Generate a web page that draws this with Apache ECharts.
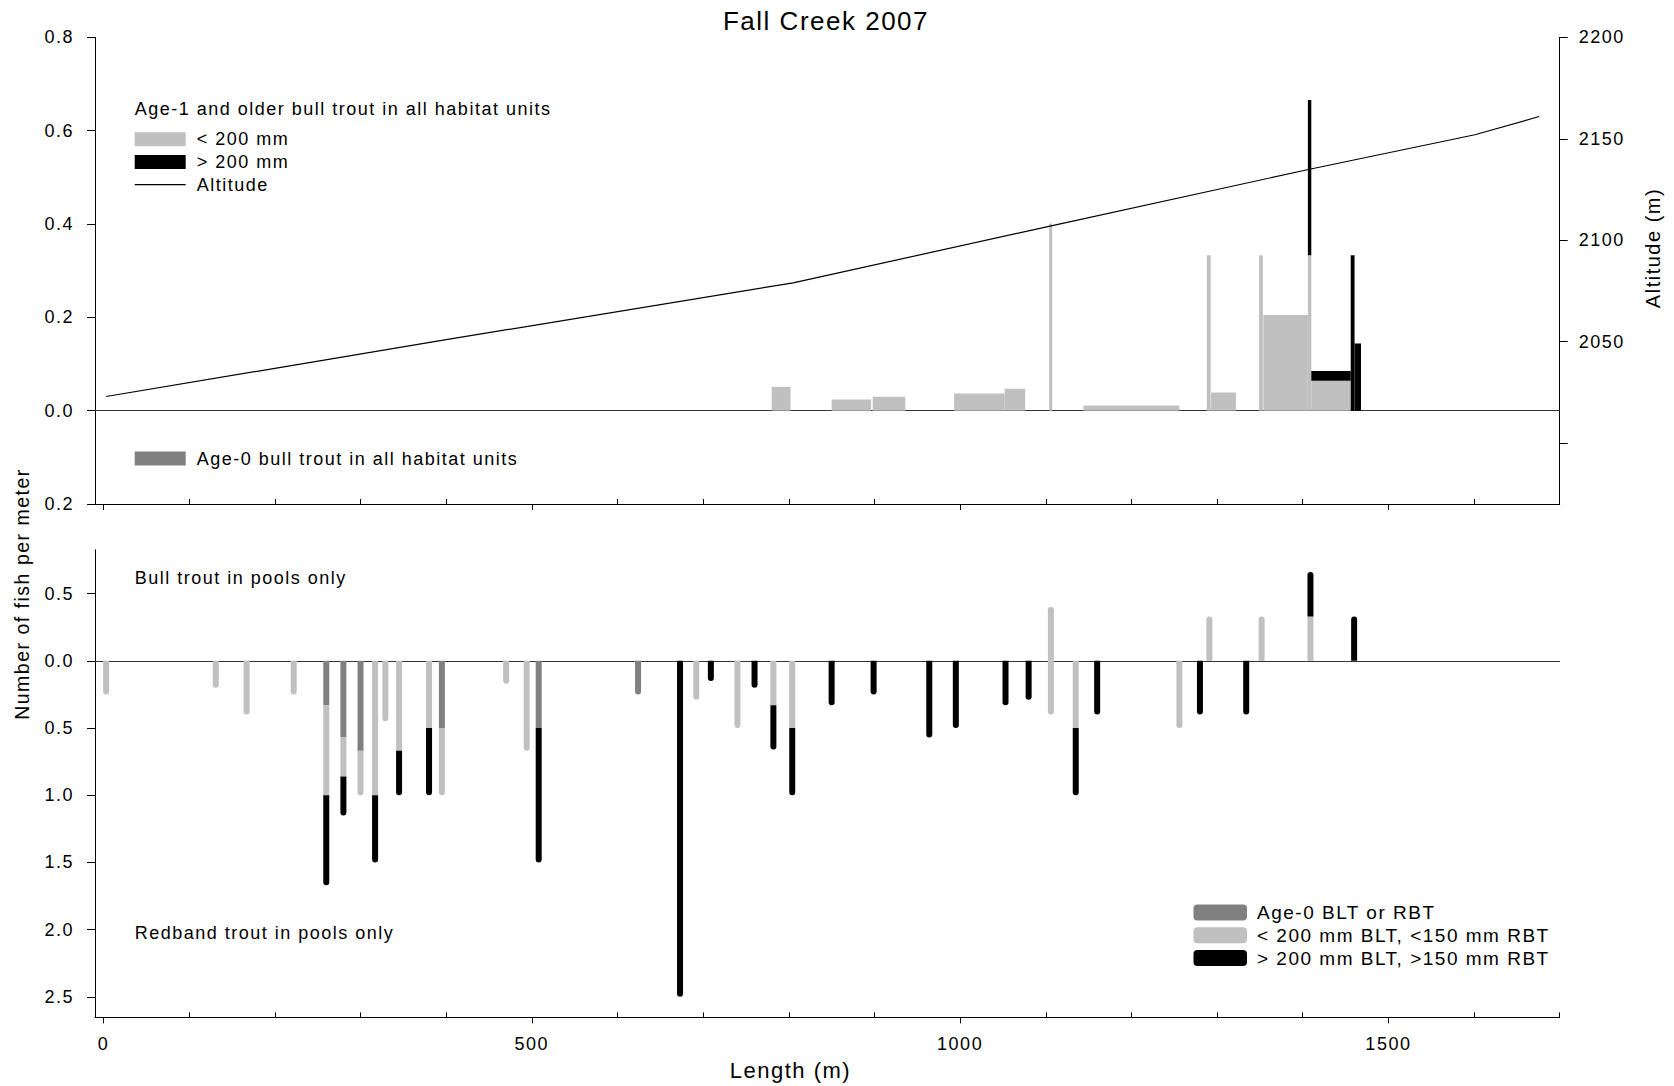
<!DOCTYPE html>
<html>
<head>
<meta charset="utf-8">
<title>Fall Creek 2007</title>
<script src="https://cdn.jsdelivr.net/npm/echarts@6/dist/echarts.min.js"></script>
<style>
  html, body { margin: 0; padding: 0; background: #fff; }
  #chart { width: 1674px; height: 1086px; }
  /* the original figure is set with a loose letter spacing */
  #chart text { letter-spacing: 1.5px; }
</style>
</head>
<body>
<div id="chart"></div>
<script>
const FONT = '"Liberation Sans", Arial, sans-serif'

// upper panel: habitat units (start / end along the creek, m) and fish per meter
const unitStart = [780, 850, 898, 993, 1052, 1104, 1144, 1288, 1293, 1349, 1354, 1406, 1410, 1456, 1460.5]
const unitEnd = [802, 896, 936, 1052, 1076, 1107.5, 1256, 1292.5, 1322, 1353.5, 1406, 1410, 1456, 1460.5, 1468]
const unitAge0 = [0, 0, 0, 0, 0, 0, 0, 0, 0, 0, 0, 0, 0, 0, 0]
const unitSmall = [0.051, 0.024, 0.03, 0.037, 0.047, 0.401, 0.011, 0.333, 0.039, 0.333, 0.205, 0.333, 0.064, 0, 0]
const unitLarge = [0, 0, 0, 0, 0, 0, 0, 0, 0, 0, 0, 0.333, 0.021, 0.333, 0.144]

// altitude profile
const altLength = [3, 400, 805, 1105, 1408, 1601, 1676]
const altitude = [2023, 2051, 2079, 2107, 2135, 2152, 2161]

// lower panel: bull trout in pools (drawn upward)
const btPos = [1106, 1291, 1352, 1409, 1460]
const btAge0 = [0, 0, 0, 0, 0]
const btSmall = [0.4, 0.33, 0.33, 0.33, 0]
const btLarge = [0, 0, 0, 0.33, 0.33]

// lower panel: redband trout in pools (drawn downward)
const rbPos = [3, 131, 167, 222, 260, 280, 300, 317, 329, 345,
  380, 395, 470, 494, 508, 624, 673, 692, 709, 740,
  760, 782, 804, 850, 899, 964, 995, 1053, 1080, 1106,
  1135, 1160, 1256, 1280, 1334]
const rbAge0 = [0, 0, 0, 0, 0.33, 0.57, 0.67, 0, 0, 0,
  0, 0.5, 0, 0, 0.5, 0.25, 0, 0, 0, 0,
  0, 0, 0, 0, 0, 0, 0, 0, 0, 0,
  0, 0, 0, 0, 0]
const rbSmall = [0.25, 0.2, 0.4, 0.25, 0.67, 0.29, 0.33, 1.0, 0.45, 0.67,
  0.5, 0.5, 0.17, 0.67, 0, 0, 0, 0.29, 0, 0.5,
  0, 0.33, 0.5, 0, 0, 0, 0, 0, 0, 0.4,
  0.5, 0, 0.5, 0, 0]
const rbLarge = [0, 0, 0, 0, 0.67, 0.29, 0, 0.5, 0, 0.33,
  0.5, 0, 0, 0, 1.0, 0, 2.5, 0, 0.15, 0,
  0.2, 0.33, 0.5, 0.33, 0.25, 0.57, 0.5, 0.33, 0.29, 0,
  0.5, 0.4, 0, 0.4, 0.4]

// ticks
const xMajor = [0, 500, 1000, 1500]
const xMinor = [100, 200, 300, 400, 600, 700, 800, 900, 1100, 1200, 1300, 1400, 1600, 1700]
const altTicks = [2000, 2050, 2100, 2150, 2200]
const altLabels = [2050, 2100, 2150, 2200]
const poolTicks = [-2.5, -2, -1.5, -1, -0.5, 0, 0.5]

const GRAY0 = '#808080'
const GRAY1 = '#c0c0c0'
const BLACK = '#000'

const absLabel = v => Math.abs(v).toFixed(1)
const plainLabel = v => String(v)
const tickText = { color: '#000', fontSize: 18, fontFamily: FONT }

// [start, end, base, value]
function unitData(cls) {
  return unitStart.map((s, i) => {
    if (cls === 0) return [s, unitEnd[i], 0, -unitAge0[i]]
    if (cls === 1) return [s, unitEnd[i], 0, unitSmall[i]]
    return [s, unitEnd[i], unitSmall[i], unitLarge[i]]
  })
}

// [pos, base, length, sign, outermost]
function poolData(pos, age0, small, large, sign, cls) {
  return pos.map((p, i) => {
    const v = [age0[i], small[i], large[i]]
    let base = 0
    for (let k = 0; k < cls; k++) base += v[k]
    let rest = 0
    for (let k = cls + 1; k < 3; k++) rest += v[k]
    return [p, base, v[cls], sign, rest === 0 ? 1 : 0]
  })
}
function pools(cls) {
  return poolData(btPos, btAge0, btSmall, btLarge, 1, cls)
    .concat(poolData(rbPos, rbAge0, rbSmall, rbLarge, -1, cls))
}

function unitBar(params, api) {
  const val = api.value(3)
  if (!val) return
  const a = api.coord([api.value(0), api.value(2)])
  const b = api.coord([api.value(1), api.value(2) + val])
  return {
    type: 'rect',
    shape: { x: a[0], y: Math.min(a[1], b[1]), width: b[0] - a[0], height: Math.abs(b[1] - a[1]) },
    style: { fill: api.visual('color') }
  }
}

function poolBar(params, api) {
  const len = api.value(2)
  if (!len) return
  const s = api.value(3)
  const p0 = api.coord([api.value(0), s * api.value(1)])
  const p1 = api.coord([api.value(0), s * (api.value(1) + len)])
  const w = 6
  const r = api.value(4) ? (s > 0 ? [3, 3, 0, 0] : [0, 0, 3, 3]) : 0
  return {
    type: 'rect',
    shape: { x: p0[0] - w / 2, y: Math.min(p0[1], p1[1]), width: w, height: Math.abs(p1[1] - p0[1]), r: r },
    style: { fill: api.visual('color') }
  }
}

function lengthAxes(gridIndex, labels) {
  return [
    {
      gridIndex, type: 'value', position: 'bottom', min: -10, max: 1700,
      axisLine: { show: true, onZero: false, lineStyle: { color: '#000', width: 1 } },
      axisTick: { show: true, customValues: xMajor, length: 6, lineStyle: { color: '#000' } },
      axisLabel: Object.assign({ show: labels, customValues: xMajor, formatter: plainLabel, margin: 18 }, tickText),
      splitLine: { show: false }
    },
    {
      gridIndex, type: 'value', position: 'bottom', min: -10, max: 1700,
      axisLine: { show: false, onZero: false },
      axisTick: { show: true, inside: true, customValues: xMinor, length: 5, lineStyle: { color: '#000' } },
      axisLabel: { show: false },
      splitLine: { show: false }
    },
    {
      // zero line
      gridIndex, type: 'value', position: 'bottom', min: -10, max: 1700,
      axisLine: { show: true, onZero: true, lineStyle: { color: '#333', width: 1 } },
      axisTick: { show: false },
      axisLabel: { show: false },
      splitLine: { show: false }
    }
  ]
}

const legendText = { color: '#000', fontSize: 18, fontFamily: FONT }

const option = {
  backgroundColor: '#fff',
  animation: false,
  title: {
    text: 'Fall Creek 2007',
    left: 826,
    textAlign: 'center',
    top: 8,
    padding: 0,
    textStyle: { color: '#000', fontSize: 26, fontWeight: 'normal', fontFamily: FONT }
  },
  grid: [
    { left: 95, top: 37.4, width: 1464.7, height: 466.6 },
    { left: 95, top: 549.8, width: 1464.7, height: 467.6 }
  ],
  xAxis: lengthAxes(0, false).concat(lengthAxes(1, true)),
  yAxis: [
    {
      gridIndex: 0, type: 'value', position: 'left', min: -0.2, max: 0.8, interval: 0.2,
      axisLine: { show: true, onZero: false, lineStyle: { color: '#000' } },
      axisTick: { show: true, length: 8, lineStyle: { color: '#000' } },
      axisLabel: Object.assign({ formatter: absLabel, margin: 21 }, tickText),
      splitLine: { show: false }
    },
    {
      gridIndex: 0, type: 'value', position: 'right', min: 1970, max: 2200,
      axisLine: { show: true, onZero: false, lineStyle: { color: '#000' } },
      axisTick: { show: true, customValues: altTicks, length: 8, lineStyle: { color: '#000' } },
      axisLabel: Object.assign({ customValues: altLabels, formatter: plainLabel, margin: 19 }, tickText),
      splitLine: { show: false }
    },
    {
      gridIndex: 1, type: 'value', position: 'left', min: -2.653, max: 0.826,
      axisLine: { show: true, onZero: false, lineStyle: { color: '#000' } },
      axisTick: { show: true, customValues: poolTicks, length: 8, lineStyle: { color: '#000' } },
      axisLabel: Object.assign({ customValues: poolTicks, formatter: absLabel, margin: 21 }, tickText),
      splitLine: { show: false }
    }
  ],
  legend: [
    {
      orient: 'vertical', left: 134.7, top: 130.3, padding: 0, itemWidth: 51, itemHeight: 14, itemGap: 4.7,
      selectedMode: false, textStyle: Object.assign({ padding: [0, 0, 0, 6] }, legendText),
      data: [
        { name: '< 200 mm', icon: 'rect' },
        { name: '> 200 mm', icon: 'rect' },
        { name: 'Altitude', icon: 'path://M0,0L100,0L100,2.4L0,2.4Z' }
      ]
    },
    {
      orient: 'vertical', left: 134.7, top: 449.5, padding: 0, itemWidth: 51, itemHeight: 14,
      selectedMode: false, textStyle: Object.assign({ padding: [0, 0, 0, 6] }, legendText),
      data: [{ name: 'Age-0 bull trout in all habitat units', icon: 'rect' }]
    },
    {
      orient: 'vertical', left: 1193.5, top: 903.1, padding: 0, itemWidth: 53.5, itemHeight: 16, itemGap: 3.7,
      selectedMode: false, icon: 'roundRect',
      textStyle: Object.assign({}, legendText, { fontSize: 19, padding: [0, 0, 0, 5] }),
      data: ['Age-0 BLT or RBT', '< 200 mm BLT, <150 mm RBT', '> 200 mm BLT, >150 mm RBT']
    }
  ],
  graphic: [
    { type: 'text', x: 134.7, y: 109.4, style: { text: 'Age-1 and older bull trout in all habitat units', fill: '#000', font: '18px ' + FONT, verticalAlign: 'middle' } },
    { type: 'text', x: 134.7, y: 577.8, style: { text: 'Bull trout in pools only', fill: '#000', font: '18px ' + FONT, verticalAlign: 'middle' } },
    { type: 'text', x: 134.7, y: 933.3, style: { text: 'Redband trout in pools only', fill: '#000', font: '18px ' + FONT, verticalAlign: 'middle' } },
    { type: 'text', x: 790.5, y: 1070, style: { text: 'Length (m)', fill: '#000', font: '22px ' + FONT, align: 'center', verticalAlign: 'middle' } },
    { type: 'text', x: 22, y: 594, rotation: Math.PI / 2, style: { text: 'Number of fish per meter', fill: '#000', font: '19.5px ' + FONT, align: 'center', verticalAlign: 'middle' } },
    { type: 'text', x: 1652.6, y: 248, rotation: Math.PI / 2, style: { text: 'Altitude (m)', fill: '#000', font: '20px ' + FONT, align: 'center', verticalAlign: 'middle' } }
  ],
  series: [
    {
      name: 'Age-0 bull trout in all habitat units', type: 'custom', xAxisIndex: 0, yAxisIndex: 0,
      itemStyle: { color: GRAY0 }, renderItem: unitBar, data: unitData(0)
    },
    {
      name: '< 200 mm', type: 'custom', xAxisIndex: 0, yAxisIndex: 0,
      itemStyle: { color: GRAY1 }, renderItem: unitBar, data: unitData(1)
    },
    {
      name: '> 200 mm', type: 'custom', xAxisIndex: 0, yAxisIndex: 0,
      itemStyle: { color: BLACK }, renderItem: unitBar, data: unitData(2)
    },
    {
      name: 'Altitude', type: 'line', xAxisIndex: 0, yAxisIndex: 1, symbol: 'none',
      lineStyle: { color: '#000', width: 1.2 }, itemStyle: { color: '#000' },
      data: altLength.map((x, i) => [x, altitude[i]])
    },
    {
      name: 'Age-0 BLT or RBT', type: 'custom', xAxisIndex: 3, yAxisIndex: 2,
      itemStyle: { color: GRAY0 }, renderItem: poolBar, data: pools(0)
    },
    {
      name: '< 200 mm BLT, <150 mm RBT', type: 'custom', xAxisIndex: 3, yAxisIndex: 2,
      itemStyle: { color: GRAY1 }, renderItem: poolBar, data: pools(1)
    },
    {
      name: '> 200 mm BLT, >150 mm RBT', type: 'custom', xAxisIndex: 3, yAxisIndex: 2,
      itemStyle: { color: BLACK }, renderItem: poolBar, data: pools(2)
    }
  ]
}

const chart = echarts.init(document.getElementById('chart'), null, { renderer: 'svg' })
chart.setOption(option)
window.onresize = () => chart.resize()
</script>
</body>
</html>
